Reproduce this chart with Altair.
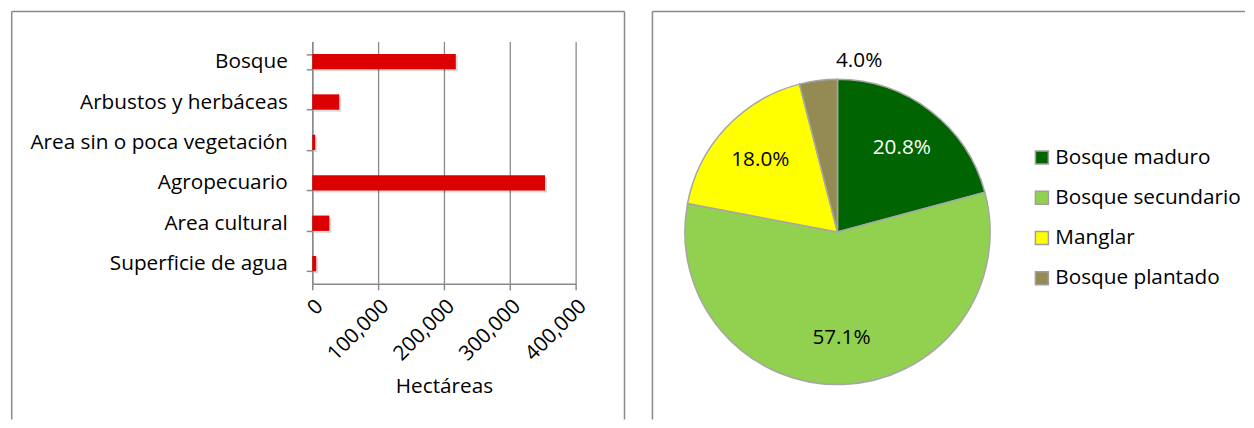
import altair as alt
import pandas as pd

# ---------------- data ----------------
land_cats = ["Bosque", "Arbustos y herbáceas", "Area sin o poca vegetación",
             "Agropecuario", "Area cultural", "Superficie de agua"]
land_ha = [218000, 41000, 4500, 353500, 26000, 6000]
x_ticks = [0, 100000, 200000, 300000, 400000]

forest_cats = ["Bosque maduro", "Bosque secundario", "Manglar", "Bosque plantado"]
forest_pct = [20.8, 57.1, 18.0, 4.0]
forest_colors = ["#006400", "#92D050", "#FFFF00", "#948A54"]

# ---------------- style ----------------
FONT = "Open Sans"
FS = 20.8
GRAY = "#8a8a8a"

bar_df = pd.DataFrame({"cat": land_cats, "ha": land_ha})
pie_df = pd.DataFrame({"cat": forest_cats, "pct": forest_pct,
                       "idx": list(range(len(forest_cats)))})
frame = alt.Data(values=[{"k": 0}])

# ---------------- left panel: bars ----------------
y_enc = alt.Y("cat:N", sort=land_cats,
              scale=alt.Scale(paddingInner=0.62, paddingOuter=0.31),
              axis=alt.Axis(title=None, labelFont=FONT, labelFontSize=FS,
                            labelColor="black", labelPadding=19, tickSize=6,
                            tickColor=GRAY, tickWidth=1.5, domainColor=GRAY,
                            domainWidth=1.5, tickBand="extent", labelLimit=400))
x_enc = alt.X("ha:Q", scale=alt.Scale(domain=[0, 400000], nice=False),
              axis=alt.Axis(values=x_ticks, format=",d", labelAngle=-45,
                            labelOverlap=False,
                            labelFont=FONT, labelFontSize=FS, labelColor="black",
                            labelPadding=6, tickSize=6, tickColor=GRAY,
                            tickWidth=1.5, domainColor=GRAY, domainWidth=1.5,
                            grid=True, gridColor=GRAY, gridWidth=1.3,
                            title="Hectáreas", titleFont=FONT, titleFontSize=FS,
                            titleFontWeight="normal", titleColor="black",
                            titlePadding=13))

shadow = alt.Chart(bar_df).mark_bar(color="#000000", opacity=0.15,
                                    xOffset=2, yOffset=2).encode(x=x_enc, y=y_enc)
bars = alt.Chart(bar_df).mark_bar(color="#DD0000").encode(x=x_enc, y=y_enc)

lb_left = alt.Chart(frame).mark_rule(color=GRAY, strokeWidth=1.5).encode(
    x=alt.value(-301.3), y=alt.value(-30), y2=alt.value(379))
lb_top = alt.Chart(frame).mark_rule(color=GRAY, strokeWidth=1.5).encode(
    x=alt.value(-301.3), x2=alt.value(313), y=alt.value(-30))
lb_right = alt.Chart(frame).mark_rule(color=GRAY, strokeWidth=1.5).encode(
    x=alt.value(313), y=alt.value(-30), y2=alt.value(379))

left = alt.layer(lb_left, lb_top, lb_right, shadow, bars).properties(
    width=264, height=243)

# ---------------- right panel: pie ----------------
base = alt.Chart(pie_df).encode(
    theta=alt.Theta("pct:Q", stack=True),
    order=alt.Order("idx:Q"),
)
arc = base.mark_arc(outerRadius=153, stroke="#a6a6a6", strokeWidth=1.5).encode(
    x=alt.value(185.5), y=alt.value(191),
    color=alt.Color("cat:N", sort=forest_cats,
                    scale=alt.Scale(domain=forest_cats, range=forest_colors),
                    legend=alt.Legend(orient="none", legendX=721, legendY=106,
                                      title=None, symbolType="square",
                                      symbolSize=169, symbolStrokeColor="#a0a0a0",
                                      symbolStrokeWidth=1.5, labelFont=FONT,
                                      labelFontSize=FS, labelColor="black",
                                      labelOffset=3, rowPadding=18.3, padding=0,
                                      labelLimit=400)),
)
labels = base.transform_calculate(
    r="datum.pct < 5 ? 173 : 106",
    lab="format(datum.pct, '.1f') + '%'",
).mark_text(font=FONT, fontSize=FS).encode(
    x=alt.value(185.5), y=alt.value(191),
    radius=alt.Radius("r:Q", scale=None),
    text="lab:N",
    color=alt.condition("datum.cat === 'Bosque maduro'",
                        alt.value("white"), alt.value("black")),
)

rb_left = alt.Chart(frame).mark_rule(color=GRAY, strokeWidth=1.5).encode(
    x=alt.value(0), y=alt.value(-30), y2=alt.value(379))
rb_top = alt.Chart(frame).mark_rule(color=GRAY, strokeWidth=1.5).encode(
    x=alt.value(0), x2=alt.value(594), y=alt.value(-30))

right = alt.layer(rb_left, rb_top, arc, labels).properties(width=370, height=330)

chart = alt.hconcat(left, right, spacing=26).properties(
    padding={"left": 2, "top": 2, "right": 0, "bottom": 0}
).configure(font=FONT).configure_view(stroke=None)

chart.save("out.html", embed_options={"renderer": "svg", "actions": False})
